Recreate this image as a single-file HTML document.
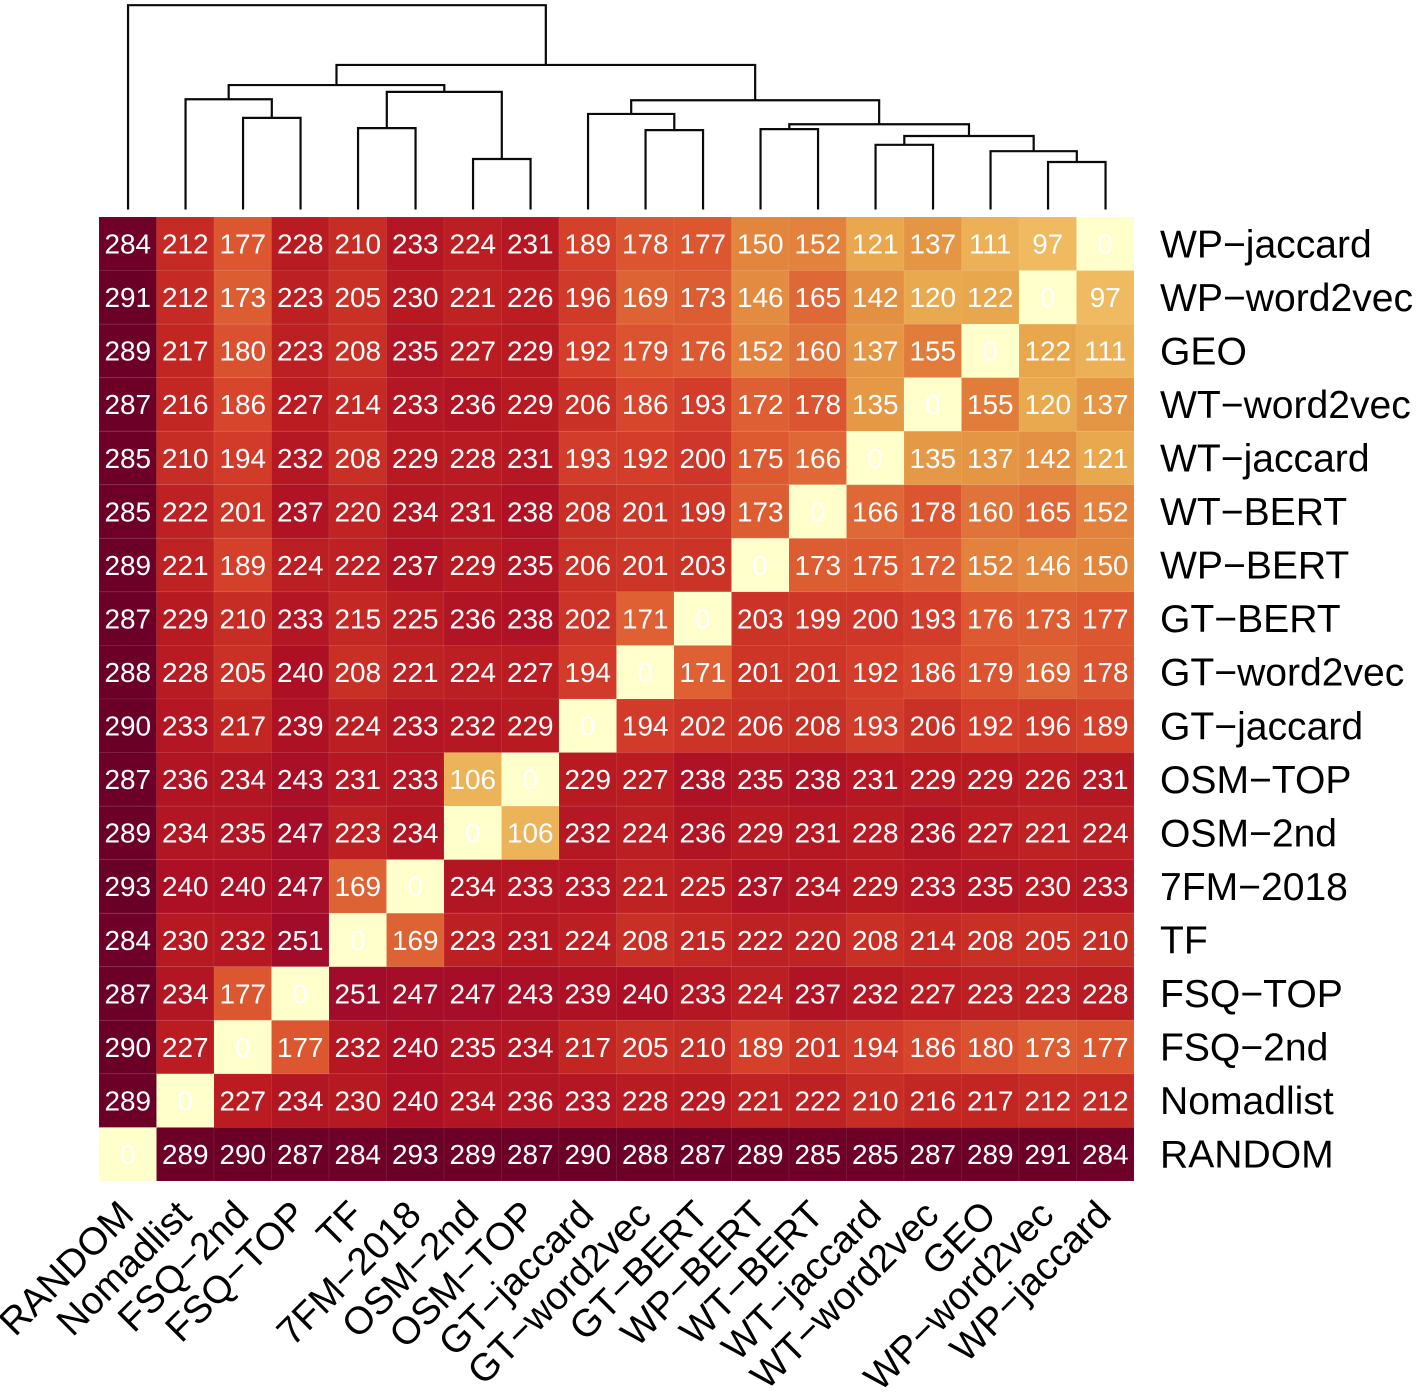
<!DOCTYPE html>
<html lang="en">
<head>
<meta charset="utf-8">
<title>Clustered distance heatmap</title>
<style>
html,body{margin:0;padding:0;background:#fff;width:1417px;height:1393px;overflow:hidden}
svg{display:block}
text{font-family:"Liberation Sans",Arial,Helvetica,sans-serif}
</style>
</head>
<body>
<svg id="chart" xmlns="http://www.w3.org/2000/svg" width="1417" height="1393" viewBox="0 0 1417 1393">
  <g id="dendrogram"></g>
  <g id="cells"></g>
  <g id="cell-values"></g>
  <g id="row-labels"></g>
  <g id="col-labels"></g>
</svg>
<script>
const colLabels = ["RANDOM","Nomadlist","FSQ\u22122nd","FSQ\u2212TOP","TF","7FM\u22122018","OSM\u22122nd","OSM\u2212TOP","GT\u2212jaccard","GT\u2212word2vec","GT\u2212BERT","WP\u2212BERT","WT\u2212BERT","WT\u2212jaccard","WT\u2212word2vec","GEO","WP\u2212word2vec","WP\u2212jaccard"];
const rowLabels = ["WP\u2212jaccard","WP\u2212word2vec","GEO","WT\u2212word2vec","WT\u2212jaccard","WT\u2212BERT","WP\u2212BERT","GT\u2212BERT","GT\u2212word2vec","GT\u2212jaccard","OSM\u2212TOP","OSM\u22122nd","7FM\u22122018","TF","FSQ\u2212TOP","FSQ\u22122nd","Nomadlist","RANDOM"];
const cellValues = [
[284,212,177,228,210,233,224,231,189,178,177,150,152,121,137,111,97,0],
[291,212,173,223,205,230,221,226,196,169,173,146,165,142,120,122,0,97],
[289,217,180,223,208,235,227,229,192,179,176,152,160,137,155,0,122,111],
[287,216,186,227,214,233,236,229,206,186,193,172,178,135,0,155,120,137],
[285,210,194,232,208,229,228,231,193,192,200,175,166,0,135,137,142,121],
[285,222,201,237,220,234,231,238,208,201,199,173,0,166,178,160,165,152],
[289,221,189,224,222,237,229,235,206,201,203,0,173,175,172,152,146,150],
[287,229,210,233,215,225,236,238,202,171,0,203,199,200,193,176,173,177],
[288,228,205,240,208,221,224,227,194,0,171,201,201,192,186,179,169,178],
[290,233,217,239,224,233,232,229,0,194,202,206,208,193,206,192,196,189],
[287,236,234,243,231,233,106,0,229,227,238,235,238,231,229,229,226,231],
[289,234,235,247,223,234,0,106,232,224,236,229,231,228,236,227,221,224],
[293,240,240,247,169,0,234,233,233,221,225,237,234,229,233,235,230,233],
[284,230,232,251,0,169,223,231,224,208,215,222,220,208,214,208,205,210],
[287,234,177,0,251,247,247,243,239,240,233,224,237,232,227,223,223,228],
[290,227,0,177,232,240,235,234,217,205,210,189,201,194,186,180,173,177],
[289,0,227,234,230,240,234,236,233,228,229,221,222,210,216,217,212,212],
[0,289,290,287,284,293,289,287,290,288,287,289,285,285,287,289,291,284]
];
/* Linkage tree: ids 0-17 are leaves, each merge i creates cluster 18+i */
const mergeLeft  = [16,15,13,20,11,22, 9, 8,25, 6, 4,28, 2, 1,31,32, 0];
const mergeRight = [17,18,14,19,12,21,10,24,23, 7, 5,27, 3,30,29,26,33];
const mergeHeights = [97,119,132,150,164,174,162,195,223,103,166,240,187,225,254,295,417];

const SVGNS = "http://www.w3.org/2000/svg";
const plotLeft = 99, plotRight = 1134, plotTop = 217, plotBottom = 1181;
const cellW = (plotRight - plotLeft) / colLabels.length;
const cellH = (plotBottom - plotTop) / rowLabels.length;
const xBand = i => plotLeft + i * cellW;
const yBand = i => plotTop + i * cellH;
const dendroBase = 209.5, dendroScale = 0.49;
const yDendro = h => dendroBase - h * dendroScale;

/* Muted YlOrRd-like colour scale */
const scaleDomain = [0,97,121,137,150,165,177,189,212,228,240,251,284,293];
const scaleColors = ["#ffffcc","#efba60","#e9a84e","#e49644","#e2863e","#df6936","#dc5730","#d5402b","#c52b24","#b91b22","#ad1024","#a00c2a","#6f0027","#690026"];
function hexToRgb(h){return [1,3,5].map(i=>parseInt(h.slice(i,i+2),16));}
function colorFor(v){
  let k = 0;
  while (k < scaleDomain.length - 2 && v > scaleDomain[k+1]) k++;
  const t = Math.min(1, Math.max(0, (v - scaleDomain[k]) / (scaleDomain[k+1] - scaleDomain[k])));
  const a = hexToRgb(scaleColors[k]), b = hexToRgb(scaleColors[k+1]);
  return "rgb(" + a.map((c,i)=>Math.round(c + (b[i]-c)*t)).join(",") + ")";
}

const gCells = document.getElementById("cells");
const gVals = document.getElementById("cell-values");
cellValues.forEach((row, r) => {
  row.forEach((v, c) => {
    const rect = document.createElementNS(SVGNS, "rect");
    
    
    rect.setAttribute("x", xBand(c));
    rect.setAttribute("y", yBand(r));
    rect.setAttribute("width", cellW);
    rect.setAttribute("height", cellH);
    rect.setAttribute("fill", colorFor(v));
    rect.setAttribute("stroke", "rgba(255,255,255,0.06)");
    rect.setAttribute("stroke-width", "1");
    gCells.appendChild(rect);

    const t = document.createElementNS(SVGNS, "text");
    
    
    t.setAttribute("x", xBand(c) + cellW / 2);
    t.setAttribute("y", yBand(r) + cellH / 2 + 9.8);
    t.setAttribute("text-anchor", "middle");
    t.setAttribute("font-size", "27.9");
    t.setAttribute("fill", "#ffffff");
    t.textContent = v;
    gVals.appendChild(t);
  });
});

const gRow = document.getElementById("row-labels");
rowLabels.forEach((label, r) => {
  const t = document.createElementNS(SVGNS, "text");
  
  
  t.setAttribute("x", 1160);
  t.setAttribute("y", yBand(r) + cellH / 2 + 13.5);
  t.setAttribute("font-size", "39.1");
  t.setAttribute("fill", "#000000");
  t.textContent = label;
  gRow.appendChild(t);
});

const gCol = document.getElementById("col-labels");
colLabels.forEach((label, c) => {
  const x = xBand(c) + cellW / 2 + 8, y = 1217;
  const t = document.createElementNS(SVGNS, "text");
  
  
  t.setAttribute("x", x);
  t.setAttribute("y", y);
  t.setAttribute("text-anchor", "end");
  t.setAttribute("transform", "rotate(-45 " + x + " " + y + ")");
  t.setAttribute("font-size", "38.4");
  t.setAttribute("fill", "#000000");
  t.textContent = label;
  gCol.appendChild(t);
});

/* Dendrogram drawn from the linkage arrays */
const gDen = document.getElementById("dendrogram");
const nodeX = {}, nodeH = {};
colLabels.forEach((_, c) => { nodeX[c] = xBand(c) + cellW / 2 + 0.3; nodeH[c] = 0; });
mergeHeights.forEach((h, i) => {
  const id = colLabels.length + i, a = mergeLeft[i], b = mergeRight[i];
  const p = document.createElementNS(SVGNS, "path");
  
  
  p.setAttribute("d", "M" + nodeX[a] + " " + yDendro(nodeH[a]) +
    " V" + yDendro(h) + " H" + nodeX[b] + " V" + yDendro(nodeH[b]));
  p.setAttribute("fill", "none");
  p.setAttribute("stroke", "#0a0a0a");
  p.setAttribute("stroke-width", "2.2");
  gDen.appendChild(p);
  nodeX[id] = (nodeX[a] + nodeX[b]) / 2;
  nodeH[id] = h;
});
</script>
</body>
</html>
